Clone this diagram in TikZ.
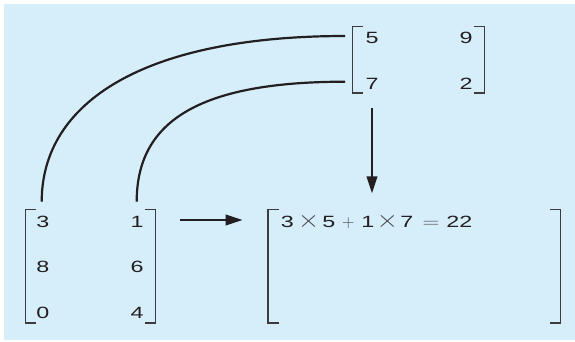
\documentclass[tikz,border=0pt]{standalone}
\usepackage{fontspec}
\setmainfont{Liberation Sans}[FakeStretch=1.43]
\usetikzlibrary{arrows.meta}
\definecolor{panel}{RGB}{214,237,250}
\definecolor{ink}{RGB}{35,31,32}
\definecolor{brk}{RGB}{60,60,62}
\definecolor{opc}{RGB}{70,70,72}
\newcommand\cg[1]{\makebox[0pt]{#1}}
\newcommand\optimes{\textcolor{opc}{\scalebox{1.6}[1.4]{$\times$}}}
\newcommand\opplus{\textcolor{opc}{$+$}}
\newcommand\opequal{\textcolor{opc}{\scalebox{1.35}[1]{$=$}}}
\begin{document}
\begin{tikzpicture}[x=1pt,y=-1pt,
  entry/.style={text=ink,inner sep=0pt,font=\fontsize{16.3}{19}\selectfont},
  matbox/.style={draw=none,inner sep=0pt},
  brack/.style={draw=brk,line width=1.3pt},
  link/.style={draw=ink,line width=2.2pt},
  arr/.style={draw=ink,line width=2.2pt,-{Triangle[length=17pt,width=10.5pt]}}]
\useasboundingbox (0,0) rectangle (575,341);
\fill[white] (0,0) rectangle (575,341);
\fill[panel] (4,4) rectangle (575,340);

% matrix frames
\node[matbox,minimum width=131.6pt,minimum height=66pt] (B) at (418.5,59.7) {};
\node[matbox,minimum width=129.5pt,minimum height=112.7pt] (A) at (90.75,266.35) {};
\node[matbox,minimum width=291.7pt,minimum height=112.7pt] (C) at (414.15,266.35) {};

\foreach \m in {A,B,C}{
  \draw[brack] ([xshift=10.5pt]\m.north west) -- (\m.north west) -- (\m.south west) -- ([xshift=10.5pt]\m.south west);
  \draw[brack] ([xshift=-10.5pt]\m.north east) -- (\m.north east) -- (\m.south east) -- ([xshift=-10.5pt]\m.south east);
}

% entries of B
\node[entry] (b11) at (372,38.3) {5};
\node[entry] (b12) at (466,38.3) {9};
\node[entry] (b21) at (372,83.7) {7};
\node[entry] (b22) at (466,83.7) {2};

% entries of A
\node[entry] (a11) at (42.8,221.5) {3};
\node[entry] (a12) at (137,221.5) {1};
\node[entry] (a21) at (42.8,266.8) {8};
\node[entry] (a22) at (137,266.8) {6};
\node[entry] (a31) at (42.8,312.5) {0};
\node[entry] (a32) at (137,312.5) {4};

% entry of C
\node[entry,anchor=base west] (c11) at (287.2,227.2)
  {\cg{3}\hspace{21.3pt}\cg{\optimes}\hspace{20.2pt}\cg{5}\hspace{19.5pt}\cg{\opplus}\hspace{19.5pt}\cg{1}\hspace{19.4pt}\cg{\optimes}\hspace{19.6pt}\cg{7}\hspace{24.1pt}\cg{\opequal}\hspace{28.4pt}\cg{22}};

% connector ends
\coordinate (p1) at (345,36);
\coordinate (p2) at (345,81.7);
\coordinate (q1) at (41.7,201.7);
\coordinate (q2) at (136.7,201.7);
\draw[link] (p1) .. controls +(-200,0) and +(0,-100) .. (q1);
\draw[link] (p2) .. controls +(-150,0) and +(0,-78) .. (q2);

% arrows
\coordinate (d0) at (372,108.3);
\coordinate (d1) at (372,193.3);
\draw[arr] (d0) -- (d1);
\coordinate (h0) at (180,220);
\coordinate (h1) at (242.7,220);
\draw[arr] (h0) -- (h1);
\end{tikzpicture}
\end{document}
